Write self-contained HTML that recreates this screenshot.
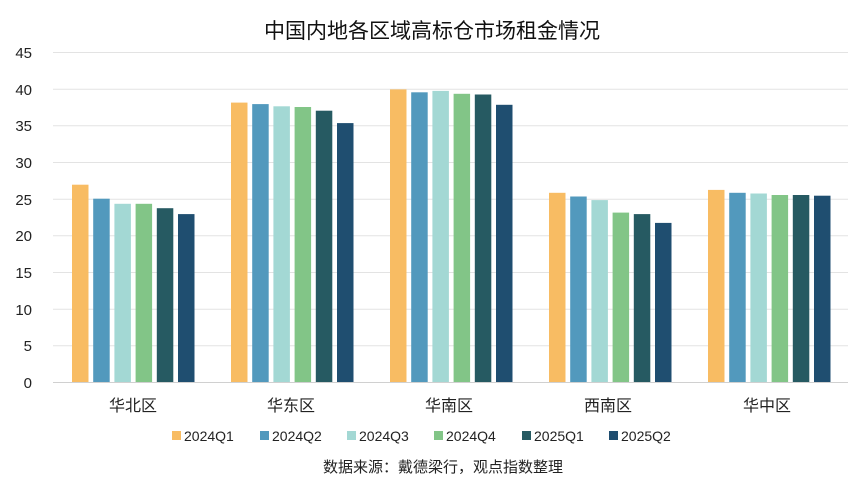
<!DOCTYPE html>
<html><head><meta charset="utf-8"><style>
body{margin:0;background:#fff;}
text{font-family:"Liberation Sans","Noto Sans CJK SC",sans-serif;}
</style></head><body>
<svg width="865" height="487" xmlns="http://www.w3.org/2000/svg">
<rect width="865" height="487" fill="#fff"/>
<text x="432" y="38" font-size="21" text-anchor="middle" fill="#111">中国内地各区域高标仓市场租金情况</text>
<g stroke="#e3e3e3" stroke-width="1">
<line x1="53" x2="848" y1="52.5" y2="52.5"/><line x1="53" x2="848" y1="89.2" y2="89.2"/>
<line x1="53" x2="848" y1="125.8" y2="125.8"/><line x1="53" x2="848" y1="162.5" y2="162.5"/>
<line x1="53" x2="848" y1="199.2" y2="199.2"/><line x1="53" x2="848" y1="235.8" y2="235.8"/>
<line x1="53" x2="848" y1="272.5" y2="272.5"/><line x1="53" x2="848" y1="309.2" y2="309.2"/>
<line x1="53" x2="848" y1="345.8" y2="345.8"/><line x1="53" x2="848" y1="382.5" y2="382.5" stroke="#d0d0d0"/>
</g>
<g font-size="15" fill="#222" text-anchor="end">
<text x="32" y="58">45</text><text x="32" y="95">40</text><text x="32" y="131">35</text>
<text x="32" y="168">30</text><text x="32" y="205">25</text><text x="32" y="241">20</text>
<text x="32" y="278">15</text><text x="32" y="315">10</text><text x="32" y="351">5</text><text x="32" y="388">0</text>
</g>
<g>
<rect x="72" y="184.7" width="16.5" height="197.3" fill="#F8BC63"/>
<rect x="93.2" y="198.7" width="16.5" height="183.3" fill="#5299BD"/>
<rect x="114.4" y="203.8" width="16.5" height="178.2" fill="#A3D8D4"/>
<rect x="135.6" y="203.8" width="16.5" height="178.2" fill="#82C587"/>
<rect x="156.8" y="208.2" width="16.5" height="173.8" fill="#265A62"/>
<rect x="178" y="214.1" width="16.5" height="167.9" fill="#1F4E70"/>

<rect x="231" y="102.6" width="16.5" height="279.4" fill="#F8BC63"/>
<rect x="252.2" y="104.1" width="16.5" height="277.9" fill="#5299BD"/>
<rect x="273.4" y="106.3" width="16.5" height="275.7" fill="#A3D8D4"/>
<rect x="294.6" y="107" width="16.5" height="275" fill="#82C587"/>
<rect x="315.8" y="110.7" width="16.5" height="271.3" fill="#265A62"/>
<rect x="337" y="123.1" width="16.5" height="258.9" fill="#1F4E70"/>

<rect x="390" y="89.4" width="16.5" height="292.6" fill="#F8BC63"/>
<rect x="411.2" y="92.3" width="16.5" height="289.7" fill="#5299BD"/>
<rect x="432.4" y="90.9" width="16.5" height="291.1" fill="#A3D8D4"/>
<rect x="453.6" y="93.8" width="16.5" height="288.2" fill="#82C587"/>
<rect x="474.8" y="94.5" width="16.5" height="287.5" fill="#265A62"/>
<rect x="496" y="104.8" width="16.5" height="277.2" fill="#1F4E70"/>

<rect x="549" y="192.8" width="16.5" height="189.2" fill="#F8BC63"/>
<rect x="570.2" y="196.5" width="16.5" height="185.5" fill="#5299BD"/>
<rect x="591.4" y="200.1" width="16.5" height="181.9" fill="#A3D8D4"/>
<rect x="612.6" y="212.6" width="16.5" height="169.4" fill="#82C587"/>
<rect x="633.8" y="214.1" width="16.5" height="167.9" fill="#265A62"/>
<rect x="655" y="222.9" width="16.5" height="159.1" fill="#1F4E70"/>

<rect x="708" y="189.9" width="16.5" height="192.1" fill="#F8BC63"/>
<rect x="729.2" y="192.8" width="16.5" height="189.2" fill="#5299BD"/>
<rect x="750.4" y="193.5" width="16.5" height="188.5" fill="#A3D8D4"/>
<rect x="771.6" y="195" width="16.5" height="187" fill="#82C587"/>
<rect x="792.8" y="195" width="16.5" height="187" fill="#265A62"/>
<rect x="814" y="195.7" width="16.5" height="186.3" fill="#1F4E70"/>
</g>
<g font-size="16" fill="#222" text-anchor="middle">
<text x="133" y="411">华北区</text><text x="291" y="411">华东区</text><text x="449" y="411">华南区</text>
<text x="608" y="411">西南区</text><text x="767" y="411">华中区</text>
</g>
<g font-size="14" fill="#222">
<rect x="172" y="431" width="9" height="9" fill="#F8BC63"/><text x="184" y="441">2024Q1</text>
<rect x="260" y="431" width="9" height="9" fill="#5299BD"/><text x="272" y="441">2024Q2</text>
<rect x="347" y="431" width="9" height="9" fill="#A3D8D4"/><text x="359" y="441">2024Q3</text>
<rect x="434" y="431" width="9" height="9" fill="#82C587"/><text x="446" y="441">2024Q4</text>
<rect x="522" y="431" width="9" height="9" fill="#265A62"/><text x="534" y="441">2025Q1</text>
<rect x="609" y="431" width="9" height="9" fill="#1F4E70"/><text x="621" y="441">2025Q2</text>
</g>
<text x="443" y="472" font-size="15" fill="#222" text-anchor="middle">数据来源：戴德梁行，观点指数整理</text>
</svg>
</body></html>
